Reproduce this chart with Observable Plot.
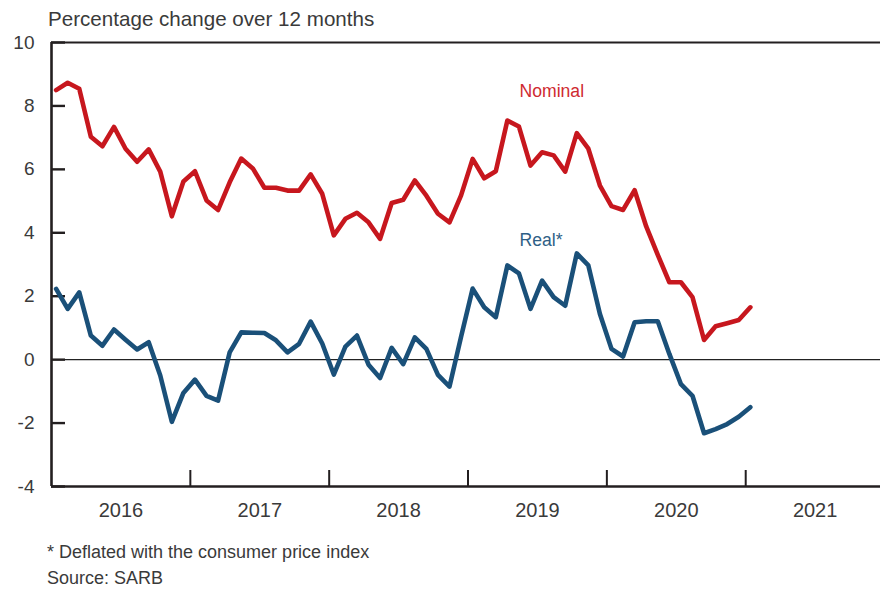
<!DOCTYPE html>
<html><head><meta charset="utf-8">
<script src="https://cdn.jsdelivr.net/npm/d3@7"></script>
<script src="https://cdn.jsdelivr.net/npm/@observablehq/plot@0.6"></script>
<style>
body{margin:0;background:#fff;font-family:"Liberation Sans",Arial,sans-serif;}
#wrap{position:relative;width:880px;height:590px;overflow:hidden;}
#chart{position:absolute;left:0;top:0;}
.t{position:absolute;white-space:nowrap;color:#3a3a3a;}
</style></head><body>
<div id="wrap">
<div id="chart"></div>
<div class="t" style="left:48px;top:9px;font-size:20.6px;line-height:20px;">Percentage change over 12 months</div>
<div class="t" style="left:47px;top:543px;font-size:18px;line-height:18px;">* Deflated with the consumer price index</div>
<div class="t" style="left:47px;top:569px;font-size:18px;line-height:18px;">Source: SARB</div>
</div>
<script>
// Monthly series, January 2016 to January 2021
const startYear = 2016;
const nominal = [8.5, 8.73, 8.54, 7.03, 6.73, 7.34, 6.65, 6.24, 6.63, 5.93, 4.52, 5.62,
  5.94, 5.02, 4.72, 5.59, 6.34, 6.03, 5.42, 5.42, 5.33, 5.33, 5.84, 5.23,
  3.92, 4.44, 4.63, 4.33, 3.81, 4.94, 5.04, 5.65, 5.17, 4.6, 4.33, 5.18,
  6.33, 5.72, 5.94, 7.54, 7.35, 6.12, 6.54, 6.44, 5.93, 7.14, 6.65, 5.49,
  4.84, 4.72, 5.34, 4.2, 3.3, 2.44, 2.44, 1.97, 0.62, 1.05, 1.15, 1.25,
  1.65];
const real = [2.23, 1.6, 2.12, 0.76, 0.44, 0.95, 0.63, 0.32, 0.55, -0.5, -1.96, -1.05,
  -0.63, -1.14, -1.29, 0.23, 0.86, 0.85, 0.84, 0.61, 0.23, 0.5, 1.2, 0.51,
  -0.47, 0.41, 0.76, -0.16, -0.58, 0.37, -0.14, 0.7, 0.34, -0.48, -0.85, 0.72,
  2.24, 1.65, 1.34, 2.97, 2.72, 1.6, 2.49, 1.97, 1.7, 3.35, 2.97, 1.44,
  0.34, 0.1, 1.18, 1.21, 1.21, 0.18, -0.77, -1.14, -2.32, -2.19, -2.03, -1.8,
  -1.5];
const yTicks = [-4, -2, 0, 2, 4, 6, 8, 10];
const yearLabels = [2016, 2017, 2018, 2019, 2020, 2021];
const yearBreaks = [2017, 2018, 2019, 2020, 2021];
const seriesNames = ["Nominal", "Real*"];
const seriesColors = ["#c7171e", "#1a5079"];
const labelColors = ["#cf2a30", "#2f5f86"];
const labelPos = [{month: 40.45, value: 8.46}, {month: 40.45, value: 3.76}];

const monthOffset = 0.4; // observation plotted within its month
const rows = (s) => s.map((v, i) => ({m: i + monthOffset, v}));
const labels = seriesNames.map((name, k) => ({name, ...labelPos[k], color: labelColors[k]}));
const monthOf = (year) => (year - startYear) * 12;

const chart = Plot.plot({
  width: 880, height: 526,
  marginLeft: 51, marginRight: 0, marginTop: 42, marginBottom: 40,
  style: {fontFamily: "'Liberation Sans', Arial, sans-serif", fontSize: "19px", color: "#3a3a3a", background: "transparent", overflow: "visible"},
  x: {domain: [0, 71.65]},
  y: {domain: [-4, 10]},
  marks: [
    Plot.ruleY([0], {stroke: "#222", strokeWidth: 1.3}),
    Plot.ruleY([10], {stroke: "#231f20", strokeWidth: 2.2}),
    Plot.ruleY([-4], {stroke: "#231f20", strokeWidth: 2.4}),
    Plot.ruleX([0], {stroke: "#231f20", strokeWidth: 2.6}),
    Plot.axisY({ticks: yTicks, tickSize: 0, tickPadding: 17, tickFormat: d => String(d), label: null, fill: "#3a3a3a"}),
    Plot.axisY({ticks: yTicks, tickSize: -14, tickFormat: () => "", label: null, stroke: "#231f20", strokeWidth: 2.4}),
    Plot.axisX({ticks: yearLabels.map(y => monthOf(y) + 6), tickFormat: d => String(startYear + Math.floor(d / 12)), tickSize: 0, tickPadding: 16, label: null, fill: "#3a3a3a", fontSize: 20}),
    Plot.axisX({ticks: yearBreaks.map(monthOf), tickSize: -16, tickFormat: () => "", label: null, stroke: "#231f20", strokeWidth: 2}),
    Plot.line(rows(nominal), {x: "m", y: "v", stroke: seriesColors[0], strokeWidth: 4.6}),
    Plot.line(rows(real), {x: "m", y: "v", stroke: seriesColors[1], strokeWidth: 4.6}),
    Plot.text(labels, {x: "month", y: "value", text: "name", fill: "color", textAnchor: "start", fontSize: 17.6})
  ]
});
document.getElementById("chart").appendChild(chart);
</script>
</body></html>
